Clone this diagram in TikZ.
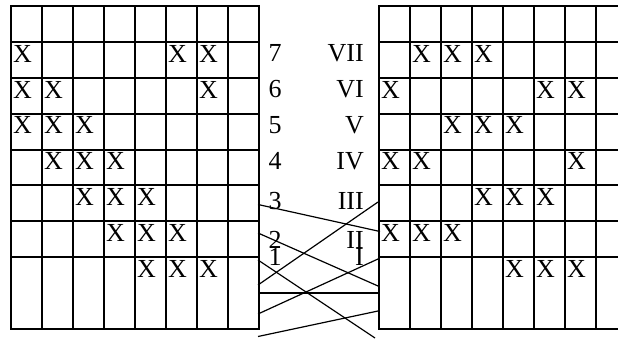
\documentclass[tikz,border=0pt]{standalone}
\usepackage{fontspec}
\setmainfont{Liberation Serif}
\begin{document}
\begin{tikzpicture}[x=1pt,y=-1pt,
  gridline/.style={line width=2pt, line cap=rect},
  link/.style={line width=1.2pt},
  cellx/.style={anchor=base west, inner sep=0pt, font=\fontsize{26}{30}\selectfont},
  numlab/.style={anchor=base west, inner sep=0pt, font=\fontsize{26}{30}\selectfont},
  romlab/.style={anchor=base east, inner sep=0pt, font=\fontsize{26}{30}\selectfont}]
\useasboundingbox (0,0) rectangle (618,339);
\clip (0,0) rectangle (618,339);
% grids
\foreach \gx in {11,379}{
  \foreach \c in {0,...,8}
    \draw[gridline] (\gx+31*\c,6.5) -- (\gx+31*\c,328.7);
  \foreach \r in {0,...,7,9}
    \draw[gridline] (\gx,6.5+35.8*\r) -- (\gx+248,6.5+35.8*\r);
}
% left grid marks
\foreach \k/\cols in {1/{0,5,6},2/{0,1,6},3/{0,1,2},4/{1,2,3},5/{2,3,4},6/{3,4,5},7/{4,5,6}}{
  \foreach \c in \cols
    \node[cellx] (L-\k-\c) at (13+31*\c,26.5+35.8*\k) {X};
}
% right grid marks
\foreach \k/\cols in {1/{1,2,3},2/{0,5,6},3/{2,3,4},4/{0,1,6},5/{3,4,5},6/{0,1,2},7/{4,5,6}}{
  \foreach \c in \cols
    \node[cellx] (R-\k-\c) at (381+31*\c,26.5+35.8*\k) {X};
}
% labels
\foreach \t/\y in {7/62,6/98,5/134,4/170,3/209,2/248,1/265}
  \node[numlab] (n\t) at (268.5,\y) {\t};
\foreach \t/\n/\y in {VII/7/62,VI/6/98,V/5/134,IV/4/170,III/3/209,II/2/248,I/1/265}
  \node[romlab] (r\n) at (364,\y) {\t};
% connectors
\coordinate (a1) at (258,204.5); \coordinate (b1) at (380,231.5);
\coordinate (a2) at (258,233);   \coordinate (b2) at (378,286);
\coordinate (a3) at (258,260);   \coordinate (b3) at (375,338);
\coordinate (a4) at (258,285);   \coordinate (b4) at (378,202);
\coordinate (a5) at (258,314);   \coordinate (b5) at (378,259);
\coordinate (a6) at (258,336.5); \coordinate (b6) at (378,311);
\foreach \i in {1,...,6}
  \draw[link] (a\i) -- (b\i);
\coordinate (m1) at (259,292.9); \coordinate (m2) at (379,292.9);
\draw[gridline] (m1) -- (m2);
\end{tikzpicture}
\end{document}
